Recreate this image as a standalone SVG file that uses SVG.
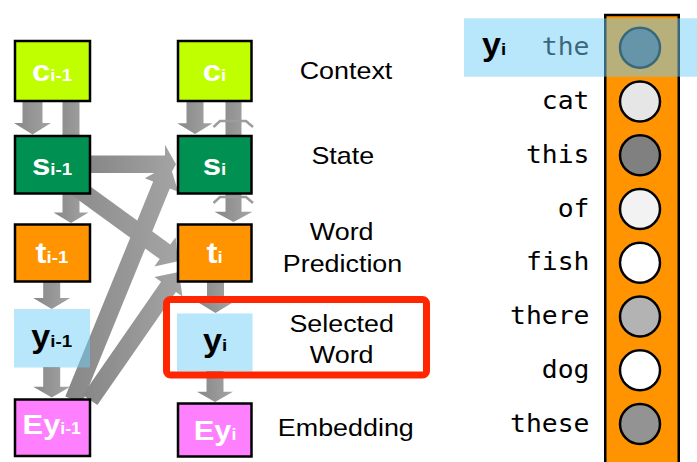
<svg xmlns="http://www.w3.org/2000/svg" width="697" height="462" viewBox="0 0 697 462">
<defs>
<linearGradient id="ag" x1="0" y1="0" x2="1" y2="0">
<stop offset="0" stop-color="#878787"/>
<stop offset="1" stop-color="#a4a4a4"/>
</linearGradient>
<style>
.ar{fill:url(#ag);}
.ch{fill:none;stroke:#9c9c9c;stroke-width:2.5;stroke-linejoin:miter;}
.bx{stroke:#000;stroke-width:2.5;}
.ctx{fill:#bfff00;}
.st{fill:#009051;}
.tp{fill:#ff9300;}
.yb{fill:#71cdf5;fill-opacity:.5;}
.eb{fill:#ff80ff;}
.nl{font-family:"Liberation Sans",Arial,sans-serif;font-weight:bold;fill:#fff;text-anchor:middle;}
.dk{fill:#000;}
.lb{font-family:"Liberation Sans",Arial,sans-serif;font-size:24px;fill:#000;text-anchor:middle;}
.wd{font-family:"DejaVu Sans Mono",monospace;font-size:24px;fill:#000;text-anchor:end;}
.cc{stroke:#000;stroke-width:2.5;}
</style>
</defs>
<g id="connectors">
<polygon class="ar" points="22.5,101 42.5,101 42.5,123 51,123 32.5,134.5 14,123 22.5,123"/>
<polygon class="ar" points="62.5,101 79.5,101 79.5,212.5 88.5,212.5 71,223 53.5,212.5 62.5,212.5"/>
<polygon class="ar" points="186.5,101 203.5,101 203.5,123.3 212.7,123.3 195,134 177.3,123.3 186.5,123.3"/>
<polygon class="ar" points="225.5,101 241.5,101 241.5,211.7 252.5,211.7 233.5,222 214.5,211.7 225.5,211.7"/>
<polyline class="ch" points="213.5,127 220,121 246,121 253,127"/>
<polyline class="ch" points="213.5,203 220,197 246,197 253,203"/>
<polygon class="ar" points="43.2,281 60.2,281 60.2,298 70.2,298 51.7,309 33.2,298 43.2,298"/>
<polygon class="ar" points="43.2,367 60.2,367 60.2,386.7 70.2,386.7 51.7,397.5 33.2,386.7 43.2,386.7"/>
<polygon class="ar" points="207,281 224,281 224,302 233.5,302 215.5,313 197.5,302 207,302"/>
<polygon class="ar" points="206.5,371 223.5,371 223.5,391.7 233,391.7 215,402 197,391.7 206.5,391.7"/>
<polygon class="ar" points="90,155.5 165,155.5 165,144.8 176,164.3 165,183.8 165,173 90,173"/>
<polygon class="ar" points="57,162.2 170.3,244.5 175.6,237.2 177.9,261.2 154.4,266.4 159.7,259.1 46.4,176.8"/>
<polygon class="ar" points="65.3,396.6 153.2,181.6 144.8,178.2 169.8,164.6 178.2,191.8 169.8,188.4 81.9,403.4"/>
<polygon class="ar" points="82.6,394.9 161.1,281.7 154.5,277.1 178.8,272 182.5,296.5 175.9,291.9 97.4,405.1"/>
</g>
<g id="c_prev"><rect class="bx ctx" x="15" y="41" width="75" height="60"/><text class="nl" transform="translate(52,80.7) scale(1.1,1)"><tspan font-size="30">c</tspan><tspan font-size="17">i-1</tspan></text></g>
<g id="c_cur"><rect class="bx ctx" x="178" y="41" width="73.5" height="60"/><text class="nl" transform="translate(214.5,80.7) scale(1.1,1)"><tspan font-size="30">c</tspan><tspan font-size="17">i</tspan></text></g>
<g id="s_prev"><rect class="bx st" x="15" y="136" width="75" height="57.5"/><text class="nl" transform="translate(52,175) scale(1.1,1)"><tspan font-size="30">s</tspan><tspan font-size="17">i-1</tspan></text></g>
<g id="s_cur"><rect class="bx st" x="178" y="136" width="73.5" height="57.5"/><text class="nl" transform="translate(214.5,175) scale(1.1,1)"><tspan font-size="30">s</tspan><tspan font-size="17">i</tspan></text></g>
<g id="t_prev"><rect class="bx tp" x="15" y="224.5" width="75" height="57"/><text class="nl" transform="translate(52,262.7) scale(1.1,1)"><tspan font-size="30">t</tspan><tspan font-size="17">i-1</tspan></text></g>
<g id="t_cur"><rect class="bx tp" x="178" y="224.5" width="73.5" height="57"/><text class="nl" transform="translate(214.5,262.7) scale(1.1,1)"><tspan font-size="30">t</tspan><tspan font-size="17">i</tspan></text></g>
<g id="y_prev"><rect class="yb" x="14" y="309" width="76" height="58.5"/><text class="nl dk" transform="translate(51.7,346.7) scale(1.1,1)"><tspan font-size="31">y</tspan><tspan font-size="17">i-1</tspan></text></g>
<g id="y_cur"><rect class="yb" x="177" y="313.5" width="75.5" height="58"/><text class="nl dk" transform="translate(215,351) scale(1.1,1)"><tspan font-size="31">y</tspan><tspan font-size="17">i</tspan></text></g>
<g id="ey_prev"><rect class="bx eb" x="15" y="399.5" width="75" height="56.5"/><text class="nl" transform="translate(51.7,434) scale(1.1,1)"><tspan font-size="28">Ey</tspan><tspan font-size="16">i-1</tspan></text></g>
<g id="ey_cur"><rect class="bx eb" x="178" y="403.5" width="73.5" height="53"/><text class="nl" transform="translate(215,440) scale(1.1,1)"><tspan font-size="28">Ey</tspan><tspan font-size="16">i</tspan></text></g>
<g id="selected_frame"><rect x="166.5" y="299.5" width="260" height="75.5" rx="4" fill="none" stroke="#ff2600" stroke-width="7"/></g>
<g id="labels">
<text class="lb" transform="translate(346,79.3) scale(1.12,1)">Context</text>
<text class="lb" transform="translate(342.8,164) scale(1.12,1)">State</text>
<text class="lb" transform="translate(341.7,240) scale(1.12,1)">Word</text>
<text class="lb" transform="translate(342.5,271.7) scale(1.12,1)">Prediction</text>
<text class="lb" transform="translate(341.7,331.7) scale(1.12,1)">Selected</text>
<text class="lb" transform="translate(341.7,363.3) scale(1.12,1)">Word</text>
<text class="lb" transform="translate(345.8,435.7) scale(1.12,1)">Embedding</text>
</g>
<g id="vocab">
<rect class="bx tp" x="605.25" y="15" width="73.5" height="460"/>
<circle class="cc" cx="640" cy="47.7" r="20" fill="#5a5a5a"/>
<circle class="cc" cx="640" cy="101.45" r="20" fill="#e6e6e6"/>
<circle class="cc" cx="640" cy="155.2" r="20" fill="#808080"/>
<circle class="cc" cx="640" cy="208.95" r="20" fill="#f2f2f2"/>
<circle class="cc" cx="640" cy="262.7" r="20" fill="#ffffff"/>
<circle class="cc" cx="640" cy="316.45" r="20" fill="#b3b3b3"/>
<circle class="cc" cx="640" cy="370.2" r="20" fill="#ffffff"/>
<circle class="cc" cx="640" cy="423.95" r="20" fill="#939393"/>
<text class="wd" transform="translate(589.5,55.3) scale(1.1,1)">the</text>
<text class="wd" transform="translate(589.5,109.05) scale(1.1,1)">cat</text>
<text class="wd" transform="translate(589.5,162.8) scale(1.1,1)">this</text>
<text class="wd" transform="translate(589.5,216.55) scale(1.1,1)">of</text>
<text class="wd" transform="translate(589.5,270.3) scale(1.1,1)">fish</text>
<text class="wd" transform="translate(589.5,324.05) scale(1.1,1)">there</text>
<text class="wd" transform="translate(589.5,377.8) scale(1.1,1)">dog</text>
<text class="wd" transform="translate(589.5,431.55) scale(1.1,1)">these</text>
</g>
<g id="highlight">
<rect class="yb" x="464" y="18.3" width="233" height="58.4"/>
<text class="nl dk" style="text-anchor:start" transform="translate(482,55.3) scale(1.1,1)"><tspan font-size="31">y</tspan><tspan font-size="17">i</tspan></text>
</g>
</svg>
